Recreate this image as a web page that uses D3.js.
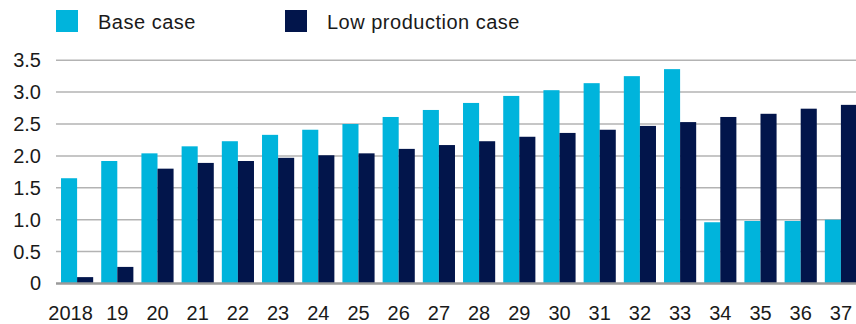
<!DOCTYPE html>
<html>
<head>
<meta charset="utf-8">
<script src="https://cdn.jsdelivr.net/npm/d3@7"></script>
<style>
  html, body { margin: 0; padding: 0; background: #fff; }
  svg { display: block; font-family: "Liberation Sans", Arial, Helvetica, sans-serif; }
</style>
</head>
<body>
<svg id="chart" width="856" height="324"></svg>
<script>
// Years on the horizontal axis
const years = ["2018", "19", "20", "21", "22", "23", "24", "25", "26", "27",
               "28", "29", "30", "31", "32", "33", "34", "35", "36", "37"];

// Base case series
const baseCase = [1.65, 1.92, 2.04, 2.15, 2.23, 2.33, 2.41, 2.50, 2.61, 2.72,
                  2.83, 2.94, 3.03, 3.14, 3.25, 3.36, 0.96, 0.98, 0.98, 1.00];

// Low production case series
const lowCase = [0.10, 0.26, 1.80, 1.89, 1.92, 1.97, 2.01, 2.04, 2.11, 2.17,
                 2.23, 2.30, 2.36, 2.41, 2.47, 2.53, 2.61, 2.66, 2.74, 2.80];

// Y-axis ticks
const yTicks = [0, 0.5, 1.0, 1.5, 2.0, 2.5, 3.0, 3.5];

const seriesNames = ["Base case", "Low production case"];
const seriesColors = ["#00b4dc", "#02154b"];

const svg = d3.select("#chart");
const margin = { left: 57, right: -5, top: 60, bottom: 40 };
const W = 856, H = 324;
const fontSize = 20;
const textColor = "#1a1a1a";

const x = d3.scaleBand()
  .domain(years)
  .range([margin.left, W - margin.right])
  .paddingInner(0.2)
  .paddingOuter(0.1);

const xSub = d3.scaleBand()
  .domain([0, 1])
  .range([0, x.bandwidth()]);

const y = d3.scaleLinear()
  .domain([0, 3.5])
  .range([283.5, 60.2]);

// Horizontal gridlines
svg.append("g")
  .selectAll("line")
  .data(yTicks.filter(d => d > 0))
  .join("line")
  .attr("x1", 56).attr("x2", W)
  .attr("y1", d => y(d)).attr("y2", d => y(d))
  .attr("stroke", "#b3b3b3")
  .attr("stroke-width", 1.5);

// Bars
const groups = svg.append("g")
  .selectAll("g")
  .data(years.map((yr, i) => ({ yr, vals: [baseCase[i], lowCase[i]] })))
  .join("g")
  .attr("transform", d => `translate(${x(d.yr)},0)`);

groups.selectAll("rect")
  .data(d => d.vals.map((v, k) => ({ v, k })))
  .join("rect")
  .attr("x", d => xSub(d.k))
  .attr("width", xSub.bandwidth())
  .attr("y", d => y(d.v))
  .attr("height", d => y(0) - y(d.v))
  .attr("fill", d => seriesColors[d.k]);

// Zero baseline
svg.append("line")
  .attr("x1", 56).attr("x2", W)
  .attr("y1", y(0)).attr("y2", y(0))
  .attr("stroke", "#9a9a9a")
  .attr("stroke-width", 2.5);

// Y-axis labels
const yAxis = d3.axisLeft(y)
  .tickValues(yTicks)
  .tickSize(0)
  .tickPadding(0)
  .tickFormat(d => d === 0 ? "0" : d3.format(".1f")(d));

svg.append("g")
  .attr("transform", "translate(41,0)")
  .call(yAxis)
  .call(g => g.select(".domain").remove())
  .call(g => g.selectAll("text")
    .attr("font-size", fontSize)
    .attr("fill", textColor)
    .attr("font-family", "Liberation Sans, Arial, sans-serif"));

// X-axis labels
const xAxis = d3.axisBottom(x)
  .tickSize(0)
  .tickPadding(0);

svg.append("g")
  .attr("transform", "translate(0,305.5)")
  .call(xAxis)
  .call(g => g.select(".domain").remove())
  .call(g => g.selectAll("text")
    .attr("font-size", fontSize)
    .attr("fill", textColor)
    .attr("font-family", "Liberation Sans, Arial, sans-serif")
    .attr("dx", d => d === "2018" ? -6.5 : 0));

// Legend
const legend = svg.append("g");
const legendX = [56, 285];
seriesNames.forEach((name, i) => {
  legend.append("rect")
    .attr("x", legendX[i]).attr("y", 10)
    .attr("width", 22).attr("height", 22)
    .attr("fill", seriesColors[i]);
  legend.append("text")
    .attr("x", legendX[i] + 42).attr("y", 29)
    .attr("font-size", fontSize)
    .attr("letter-spacing", 0.5)
    .attr("fill", textColor)
    .text(name);
});
</script>
</body>
</html>
